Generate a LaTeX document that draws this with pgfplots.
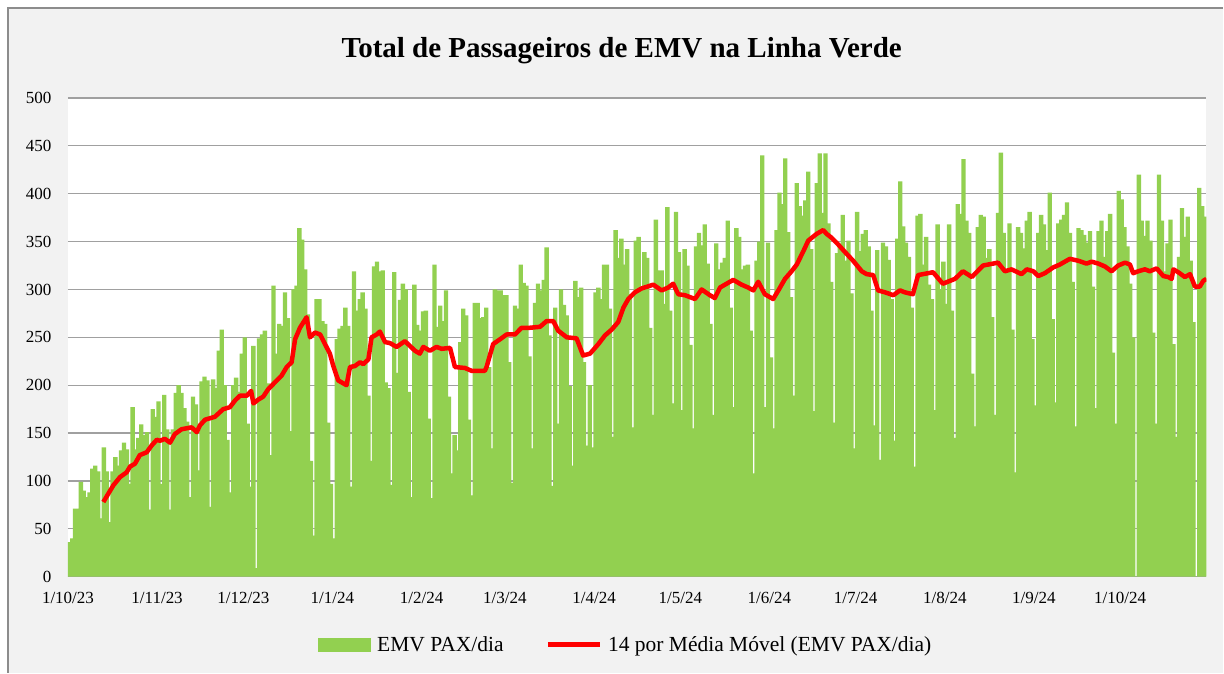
\documentclass[border=0pt]{standalone}
\usepackage{pgfplots}
\usepackage{pgfplotstable}
\pgfplotsset{compat=1.18}
\usepackage{fontspec}
\setmainfont{Liberation Serif}
\definecolor{barg}{RGB}{146,208,80}
\definecolor{gridg}{RGB}{160,160,160}
\definecolor{bgg}{RGB}{242,242,242}
\definecolor{borderg}{RGB}{140,140,140}
\definecolor{mared}{RGB}{255,0,0}

\pgfplotstableread{
v
36
40
71
71
99
90
83
88
113
116
110
61
135
110
57
110
125
116
132
140
133
97
177
133
145
159
148
151
70
175
167
183
97
190
154
70
154
192
200
192
176
162
83
188
180
111
204
209
205
73
206
197
236
258
200
143
88
200
208
193
233
250
160
94
241
9
249
253
257
202
127
304
233
264
262
297
270
152
300
304
364
352
321
274
121
43
290
290
267
264
161
97
40
248
259
262
281
262
94
319
278
290
297
280
189
121
324
329
319
320
203
197
96
318
213
289
306
300
193
83
305
263
257
277
278
165
82
326
261
283
267
299
188
108
148
132
245
280
273
164
85
286
286
270
271
281
219
134
300
299
299
294
294
224
98
283
280
326
307
304
230
134
286
306
299
310
344
252
95
281
160
300
284
273
199
116
309
292
302
224
137
200
135
297
302
290
326
326
280
146
362
333
353
326
342
295
156
351
355
302
339
333
260
169
373
320
320
285
386
278
181
381
339
174
342
325
242
155
345
359
346
368
327
264
169
348
321
328
333
372
281
177
364
355
321
325
326
257
108
330
350
440
177
349
229
155
362
401
389
437
360
292
189
411
387
377
393
423
342
173
411
442
380
442
369
308
161
338
347
378
330
351
296
134
381
340
358
362
345
278
158
341
122
349
345
331
290
142
353
413
366
349
334
281
115
377
379
326
355
305
290
174
368
300
329
285
368
278
145
389
379
436
372
359
212
157
365
378
376
333
342
271
169
380
443
359
321
369
258
109
365
359
343
372
381
248
179
359
378
368
341
401
269
182
369
373
378
391
359
308
157
364
362
357
349
361
303
176
361
372
334
361
379
234
160
403
394
365
345
306
250
0
420
372
356
372
351
255
160
420
372
319
348
373
243
146
334
385
355
376
330
266
0
406
387
376
}\pax

\pgfplotstableread{
d m
12.3 78
15.8 95.5
18.1 104
20.4 109
21.6 115
23.3 118
25.0 127
27.4 130
29.1 137
30.9 143
32.0 142
33.7 144
35.5 140
37.2 149
39.5 154
43.0 156
44.8 151
45.9 158
47.7 164
51.1 167
52.9 172
54.0 175
56.3 177
58.1 184
59.8 189
62.2 189
63.7 194
64.5 181
66.2 185
67.9 188
69.7 196
72.0 203
74.3 210
76.1 219
77.8 224
79.0 248
80.7 260
83.0 271
84.2 250
85.9 255
87.7 253
89.4 243
91.1 233
92.3 220
94.0 205
96.9 200
98.1 219
99.8 220
101.6 224
102.7 222
104.5 227
105.6 250
107.4 253
108.5 256
110.3 245
112.0 244
114.3 240
117.2 246
120.7 236
122.4 233
123.6 240
125.9 236
128.2 240
130.0 238
132.9 239
134.6 219
138.1 218
140.4 215
145.0 215
145.6 219
147.9 243
150.3 248
152.6 253
155.5 253
157.8 260
160.7 260
164.2 261
166.5 267
168.8 267
170.5 257
173.5 250
176.9 249
179.2 231
181.6 233
184.5 243
186.8 252
189.1 258
191.4 266
193.2 281
194.9 290
197.2 297
199.5 301
203.6 305
206.5 299
208.8 302
210.5 306
212.3 295
214.6 294
218.1 290
220.4 300
223.3 294
225.0 291
226.8 302
231.4 310
234.3 305
236.6 302
238.4 299
240.1 308
242.4 295
245.3 290
247.1 299
249.4 311
251.7 319
253.5 326
255.8 340
257.5 351
260.4 358
262.7 362
263.9 358
265.6 354
267.9 347
270.3 339
273.1 330
276.1 319
277.8 316
280.1 315
281.8 299
284.2 297
287.1 294
289.4 299
291.1 297
293.9 295
295.7 315
300.9 318
304.3 306
308.5 311
311.3 319
314.4 313
318.3 325
323.5 328
325.9 319
328.2 321
331.7 316
333.5 321
335.8 319
337.5 314
339.8 317
342.7 323
345.0 326
348.5 332
351.4 330
354.3 327
356.1 329
358.4 327
360.7 324
363.0 319
365.3 325
367.7 328
369.4 326
370.5 317
372.3 319
374.6 321
376.3 319
378.7 322
381.0 314
382.7 313
383.9 311
384.5 321
386.2 318
388.5 313
390.3 316
392.0 303
393.7 303
394.9 309
396.0 311
}\mavg

\begin{document}
\begin{tikzpicture}[x=1pt,y=1pt]
\fill[white] (0,0) rectangle (1224,673);
\fill[bgg] (8,0) rectangle (1224,665);
\draw[borderg, line width=1.2pt] (8,0) -- (8,665) -- (1224,665);
\node[font=\fontsize{29}{33}\selectfont\bfseries] at (622,622) {Total de Passageiros de EMV na Linha Verde};
\begin{axis}[
  at={(68pt,96pt)}, anchor=south west,
  scale only axis, width=1139pt, height=479pt,
  xmin=0, xmax=396, ymin=0, ymax=500,
  axis background/.style={fill=white},
  ytick={0,50,...,500},
  xtick={0,31,61,92,123,152,183,213,244,274,305,336,366},
  xticklabels={1/10/23,1/11/23,1/12/23,1/1/24,1/2/24,1/3/24,1/4/24,1/5/24,1/6/24,1/7/24,1/8/24,1/9/24,1/10/24},
  major tick length=0pt,
  ymajorgrids,
  grid style={draw=gridg, line width=1.3pt},
  axis x line*=bottom, axis y line*=left,
  x axis line style={draw=gridg, line width=1.3pt, -},
  y axis line style={draw=none},
  /pgf/number format/assume math mode=true,
  tick label style={font=\fontsize{17}{19}\selectfont},
  yticklabel style={xshift=-13pt},
  xticklabel style={yshift=-12pt},
  legend style={at={(0.49,-0.142)}, anchor=center, draw=none, fill=none,
    font=\fontsize{21.5}{24}\selectfont, legend columns=2,
    /tikz/every odd column/.append style={column sep=4pt},
    /tikz/every even column/.append style={column sep=40pt}},
]
\addplot[ybar, bar width=1.5, fill=barg, draw=none,
  legend image code/.code={\fill[barg] (0pt,-7pt) rectangle (53pt,7pt);}]
  table[x expr=\coordindex+0.5, y=v] {\pax};
\addlegendentry{EMV PAX/dia}
\addplot[mared, line width=4.5pt, line join=round, no marks,
  legend image code/.code={\draw[mared, line width=4.5pt] (0pt,0pt) -- (52pt,0pt);}]
  table[x=d, y=m] {\mavg};
\addlegendentry{14 por Média Móvel (EMV PAX/dia)}
\end{axis}
\end{tikzpicture}
\end{document}
